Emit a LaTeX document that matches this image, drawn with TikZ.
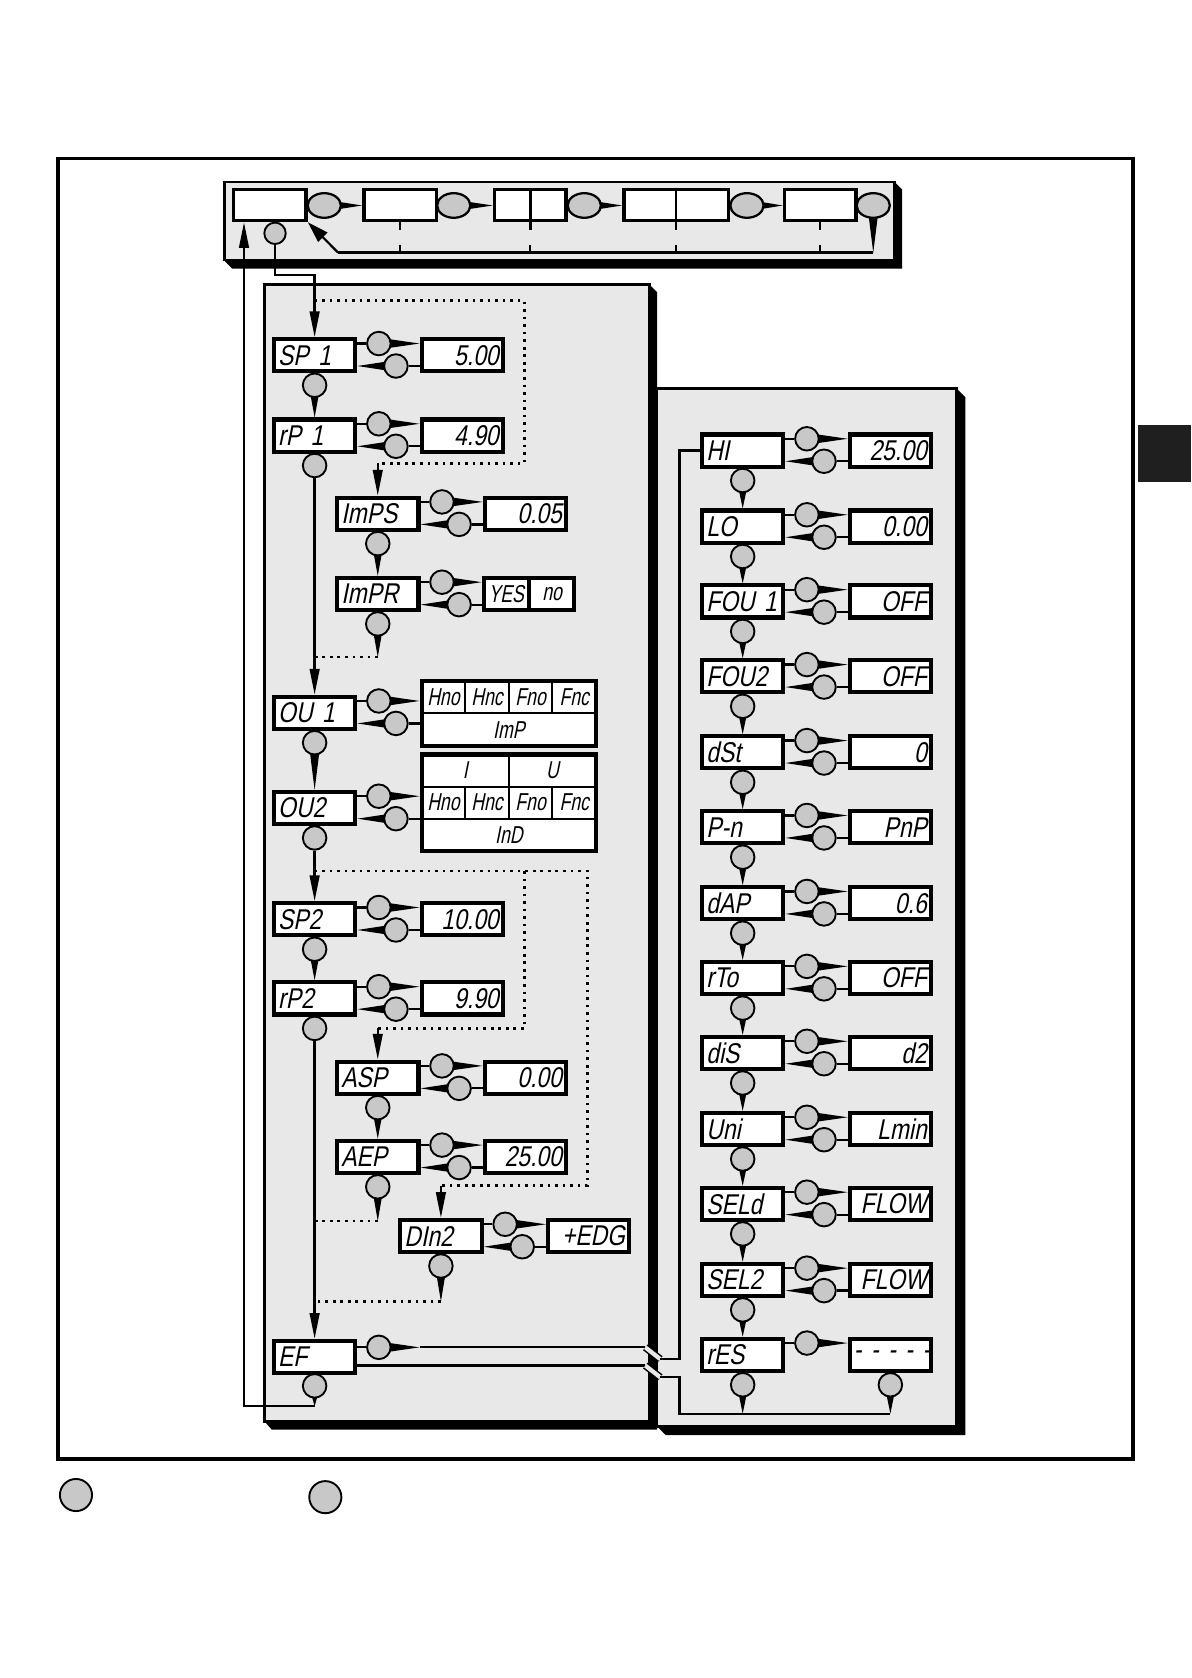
\documentclass[tikz,border=0pt]{standalone}
\usepackage{fontspec}
\usepackage{tikz}
\usetikzlibrary{arrows.meta, calc, shapes.geometric}
\newfontfamily\lcdfont{Liberation Sans}[FakeSlant=0.2, FakeStretch=0.8]
\newfontfamily\lcdnarrow{Liberation Sans}[FakeSlant=0.2, FakeStretch=0.72]
\definecolor{panelgray}{HTML}{E8E8E8}
\definecolor{knobgray}{HTML}{C8C8C8}
\pgfdeclarelayer{back}
\pgfdeclarelayer{wires}
\pgfsetlayers{back,wires,main}

\begin{document}
\begin{tikzpicture}[x=0.01cm, y=-0.01cm,
  pbox/.style={draw, line width=1.1pt, fill=white, minimum height=0.30cm,
    text width=0.68cm, inner xsep=0.04cm, inner ysep=0pt, align=left,
    font=\lcdfont\fontsize{7.6}{7.6}\selectfont},
  valbox/.style={pbox, align=right},
  tabbox/.style={draw, line width=1.1pt, fill=white, inner sep=0pt},
  cellbox/.style={draw, line width=0.5pt, minimum width=0.4075cm, minimum height=0.30cm,
    inner sep=0pt, font=\lcdnarrow\fontsize{6.5}{6.5}\selectfont},
  knob/.style={circle, draw, line width=0.5pt, fill=knobgray, minimum size=0.22cm, inner sep=0pt},
  ovalknob/.style={ellipse, draw, line width=0.6pt, fill=knobgray, minimum width=0.31cm,
    minimum height=0.23cm, inner sep=0pt},
  winbox/.style={draw, line width=0.9pt, fill=white, minimum height=0.29cm, inner sep=0pt},
  panel/.style={draw, line width=0.7pt, fill=panelgray},
  wire/.style={line width=0.6pt},
  dotline/.style={line width=0.7pt, dash pattern=on 0.7pt off 1.3pt},
  arrowhd/.style={-{Triangle[length=0.24cm, width=0.09cm]}},
  taper/.style={to path={($(\tikztostart)!0.055cm!90:(\tikztotarget)$) -- (\tikztotarget)
    -- ($(\tikztostart)!0.055cm!-90:(\tikztotarget)$) -- cycle}}]
  \useasboundingbox (0,0) rectangle (1113,1568);

  % frame, tab and legend
  \draw[line width=1pt] (54,148) rectangle (1059,1363);
  \fill[black!88] (1063,397) rectangle (1113,450);
  \node[knob, minimum size=0.30cm] (keyA) at (71,1397) {};
  \node[knob, minimum size=0.30cm] (keyB) at (304,1399) {};

  % panels with shadows
  \begin{pgfonlayer}{back}
    \fill (836,170) -- (843,177) -- (843,251) -- (217,251) -- (210,244) -- cycle;
    \draw[panel] (210,170) rectangle (836,243);
    \fill (894,363) -- (902,371) -- (902,1341) -- (622,1341) -- (614,1333) -- cycle;
    \draw[panel] (614,363) rectangle (894,1333);
    \fill (607,266) -- (614,273) -- (614,1336) -- (254,1336) -- (247,1328) -- cycle;
    \draw[panel] (247,266) rectangle (607,1328);
  \end{pgfonlayer}

  % display windows (top)
  \foreach \w/\x/\b in {w1/252/0.68, w2/374/0.68, w3/495.5/0.67, w4/632/0.98, w5/766.5/0.67}
    \node[winbox, minimum width=\b cm] (\w) at (\x,191.5) {};
  \foreach \o/\x in {o1/303, o2/424, o3/546, o4/698, o5/816}
    \node[ovalknob] (\o) at (\x,192) {};
  \node[knob, minimum size=0.2cm] (k0) at (257,218) {};
  \draw[line width=0.9pt] (w3.north) -- (w3.south);
  \draw[wire] (w4.north) -- (w4.south);

  % parameters with a set value
  \foreach \n/\x/\y/\p/\v in {sp1/294/332/SP~1/5.00, rp1/294/407/rP~1/4.90, imps/353/480/ImPS/0.05,
    sp2/294/859/SP2/10.00, rp2/294/933/rP2/9.90, asp/353/1007/ASP/0.00, aep/353/1081/AEP/25.00,
    din2/412/1155/DIn2/+EDG, hi/694/421/HI/25.00, lo/694/492/LO/0.00, fou1/694/562/FOU~1/OFF,
    fou2/694/632/FOU2/OFF, dst/694/703/dSt/0, pn/694/773/P-n/PnP, dap/694/844/dAP/0.6,
    rto/694/914/rTo/OFF, dis/694/984/diS/d2, uni/694/1055/Uni/Lmin, seld/694/1125/SELd/FLOW,
    sel2/694/1196/SEL2/FLOW}{
    \node[pbox] (\n) at (\x,\y) {\p};
    \node[valbox] (v\n) at (\x+138,\y) {\v};
    \node[knob] (u\n) at (\x+60,\y-11) {};
    \node[knob] (l\n) at (\x+76,\y+10) {};
    \node[knob] (d\n) at (\x,\y+28) {};
  }
  % parameters with a choice list
  \foreach \n/\x/\y/\p in {impr/353/555/ImPR, ou1/294/666/OU~1, ou2/294/755/OU2}{
    \node[pbox] (\n) at (\x,\y) {\p};
    \node[knob] (u\n) at (\x+60,\y-11) {};
    \node[knob] (l\n) at (\x+76,\y+10) {};
    \node[knob] (d\n) at (\x,\y+28) {};
  }
  \node[tabbox, minimum width=0.84cm, minimum height=0.30cm] (vimpr) at (494,555) {};
  \node[cellbox, minimum width=0.42cm, draw=none] (yes) at (473,555) {YES};
  \node[cellbox, minimum width=0.42cm, draw=none] (no) at (516,555) {no};
  \draw[line width=1.1pt] (vimpr.north) -- (vimpr.south);

  \node[tabbox, minimum width=1.63cm, minimum height=0.61cm] (vou1) at (475.5,666.5) {};
  \foreach \t [count=\i] in {Hno,Hnc,Fno,Fnc}
    \node[cellbox] (ou1c\i) at (373.6+40.75*\i,651.25) {\t};
  \node[cellbox, minimum width=1.63cm] (ou1m) at (475.5,681.75) {ImP};

  \node[tabbox, minimum width=1.63cm, minimum height=0.90cm] (vou2) at (475.5,750) {};
  \node[cellbox, minimum width=0.815cm] (ou2i) at (434.75,720) {I};
  \node[cellbox, minimum width=0.815cm] (ou2u) at (516.25,720) {U};
  \foreach \t [count=\i] in {Hno,Hnc,Fno,Fnc}
    \node[cellbox] (ou2c\i) at (373.6+40.75*\i,750) {\t};
  \node[cellbox, minimum width=1.63cm] (ou2m) at (475.5,780) {InD};

  % EF and rES
  \node[pbox] (ef) at (294,1268) {EF};
  \node[knob] (uef) at (354,1259) {};
  \node[knob] (def) at (294,1295) {};
  \node[pbox] (res) at (694,1266) {rES};
  \node[valbox] (vres) at (832,1266) {\mbox{-\,\,-\,\,-\,\,-\,\,-}};
  \node[knob] (ures) at (754,1255) {};
  \node[knob] (dres) at (694,1294) {};
  \node[knob] (dvres) at (832,1294) {};

  % bends of the wires
  \coordinate (rr) at (816,236);  \coordinate (rl) at (316,236);
  \coordinate (e1) at (257,257);  \coordinate (e2) at (294,257);
  \coordinate (b1) at (294,1314); \coordinate (b2) at (228,1314);
  \coordinate (p1) at (294,281);  \coordinate (p2) at (490,281);
  \coordinate (p3) at (490,433);  \coordinate (p4) at (353,433);
  \coordinate (q0) at (294,614);  \coordinate (q1) at (353,614);
  \coordinate (s1) at (294,814);  \coordinate (s2) at (549,814);
  \coordinate (s3) at (549,1108); \coordinate (s4) at (412,1108);
  \coordinate (t1) at (490,814);  \coordinate (t2) at (490,961);
  \coordinate (t3) at (353,961);
  \coordinate (q2) at (294,1141); \coordinate (q3) at (353,1141);
  \coordinate (q4) at (412,1216); \coordinate (q5) at (294,1216);
  \coordinate (tef) at (392,1259); \coordinate (ja) at (603,1259);
  \coordinate (jb) at (617,1270); \coordinate (jc) at (635,1270);
  \coordinate (ka) at (603,1276); \coordinate (kb) at (617,1287);
  \coordinate (kc) at (635,1287); \coordinate (kd) at (635,1321);
  \coordinate (ke) at (832,1321);

  \begin{pgfonlayer}{wires}
    % top cycle
    \foreach \o/\w in {o1/w2, o2/w3, o3/w4, o4/w5}
      \fill (\o) to[taper] (\w.west |- \o);
    \fill (o5) to[taper] (rr);
    \draw[wire] (rr) -- (rl);
    \draw[wire, -{Triangle[length=0.2cm, width=0.12cm]}] (rl) -- (w1.south east);
    \draw[line width=0.9pt] (w3.south) -- ++(0,7);
    \foreach \w in {w2,w4,w5} \draw[wire] (\w.south) -- ++(0,7);
    \foreach \w in {w2,w3,w4,w5} \draw[wire] (\w.south |- rr) -- ++(0,-7);
    % into and out of the menu
    \draw[wire, arrowhd] (k0) -- (e1) -- (e2) -- (sp1.north);
    \fill (def) to[taper] (b1);
    \draw[wire, arrowhd] (b1) -- (b2) -- (b2 |- w1.south);
    % set and back
    \foreach \n in {sp1,rp1,imps,impr,ou1,ou2,sp2,rp2,asp,aep,din2,hi,lo,fou1,fou2,dst,pn,dap,rto,dis,uni,seld,sel2}{
      \draw[wire] (\n.east |- u\n) -- (u\n);
      \fill (u\n) to[taper] (v\n.west |- u\n);
      \draw[wire] (v\n.west |- l\n) -- (l\n);
      \fill (l\n) to[taper] (\n.east |- l\n);
    }
    \draw[wire] (res.east |- ures) -- (ures);
    \fill (ures) to[taper] (vres.west |- ures);
    % next parameter
    \foreach \a/\b in {sp1/rp1, imps/impr, ou1/ou2, sp2/rp2, asp/aep, hi/lo, lo/fou1, fou1/fou2,
      fou2/dst, dst/pn, pn/dap, dap/rto, rto/dis, dis/uni, uni/seld, seld/sel2, sel2/res}
      \fill (d\a) to[taper] (\b.north);
    \draw[wire, arrowhd] (drp1) -- (ou1.north);
    \draw[wire, arrowhd] (dou2) -- (sp2.north);
    \draw[wire, arrowhd] (drp2) -- (ef.north);
    % dotted branches
    \draw[dotline] (p1) -- (p2) -- (p3) -- (p4);
    \draw[wire, arrowhd] (p4) -- (imps.north);
    \fill (dimpr) to[taper] (q1);
    \draw[dotline] (q1) -- (q0);
    \draw[dotline] (s1) -- (s2) -- (s3) -- (s4);
    \draw[wire, arrowhd] (s4) -- (din2.north);
    \draw[dotline] (t1) -- (t2) -- (t3);
    \draw[wire, arrowhd] (t3) -- (asp.north);
    \fill (daep) to[taper] (q3);
    \draw[dotline] (q3) -- (q2);
    \fill (ddin2) to[taper] (q4);
    \draw[dotline] (q4) -- (q5);
    % EF over to HI, back from rES
    \draw[wire] (ef.east |- uef) -- (uef);
    \fill (uef) to[taper] (tef);
    \draw[wire] (tef) -- (ja);
    \draw[line width=0.4pt, double=panelgray, double distance=0.04cm] (ja) -- (jb);
    \draw[wire] (jb) -- (jc) -- (jc |- hi) -- (hi.west);
    \draw[wire] (ef.east |- ka) -- (ka);
    \draw[line width=0.4pt, double=panelgray, double distance=0.04cm] (ka) -- (kb);
    \draw[wire] (kb) -- (kc) -- (kd) -- (ke);
    \fill (dres) to[taper] (dres |- kd);
    \fill (dvres) to[taper] (ke);
  \end{pgfonlayer}
\end{tikzpicture}
\end{document}
